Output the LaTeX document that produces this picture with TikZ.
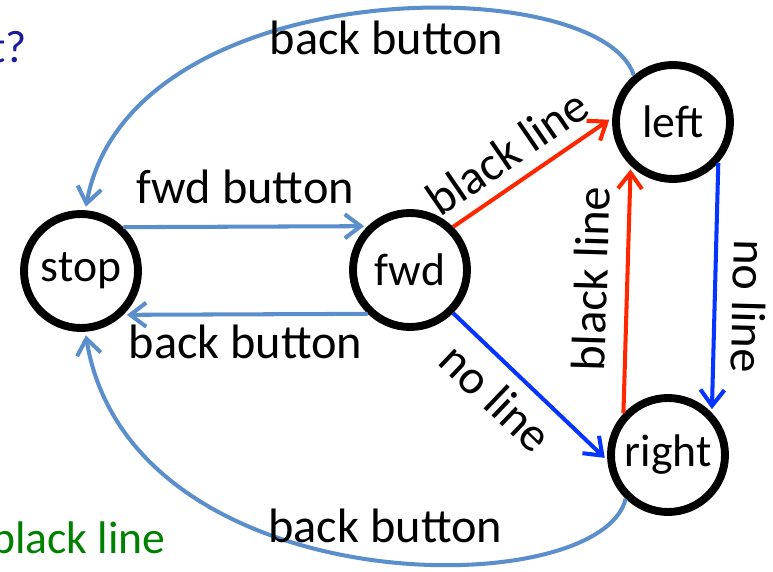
\documentclass[tikz,border=0pt]{standalone}
\usepackage{fontspec}
\setmainfont{Carlito}
\usetikzlibrary{arrows.meta}
\definecolor{btnblue}{RGB}{91,143,204}
\definecolor{linered}{RGB}{255,38,0}
\definecolor{noblue}{RGB}{5,51,255}
\definecolor{hintgreen}{RGB}{0,128,0}
\definecolor{askblue}{RGB}{28,28,150}

\begin{document}
\begin{tikzpicture}[font=\fontsize{26}{31}\selectfont,
  state/.style={circle,draw,line width=4.5pt,minimum size=2.28cm,inner sep=0pt},
  trans/.style={line width=2.3pt,shorten >=2pt,-{Straight Barb[length=3.2mm,width=4.8mm]}},
  lbl/.style={inner sep=2pt,text=black,font=\fontsize{27.5}{32}\selectfont}]
  \useasboundingbox (0,0) rectangle (15.46,11.42);
  \clip (0,0) rectangle (15.46,11.42);
  % states
  \node[state] (stop)  at (1.62,6.00) {stop};
  \node[state] (fwd)   at (8.20,6.02) {fwd};
  \node[state] (left)  at (13.46,8.98) {left};
  \node[state] (right) at (13.36,2.32) {right};
  % buttons
  \draw[trans,btnblue] (stop.46) -- node[lbl,above=10pt] {fwd button} (fwd.134);
  \draw[trans,btnblue] (fwd.-134) -- node[lbl,below=3pt] {back button} (stop.-46);
  \draw[trans,btnblue] (left.130) .. controls (12.0,12.02) and (2.6,12.02) ..
    node[lbl,pos=0.47,below=3pt] {back button} (stop.86);
  \draw[trans,btnblue] (right.-134) .. controls (12.0,-0.68) and (2.6,-0.68) ..
    node[lbl,pos=0.47,above=7pt] {back button} (stop.-86);
  % line sensor
  \draw[trans,linered] (fwd.45) -- node[lbl,pos=0.45,sloped,above=5pt] {black line} (left.176);
  \draw[trans,noblue] (fwd.-45) -- node[lbl,pos=0.42,sloped,below=5pt] {no line} (right.185);
  \draw[trans,linered] (right.137) -- node[lbl,pos=0.54,sloped,above=8pt] {black line} (left.226);
  \draw[trans,noblue] (left.-42) -- node[lbl,pos=0.57,sloped,above=7pt,allow upside down] {no line} (right.44);
  % cut-off slide text
  \node[askblue,inner sep=0pt,anchor=base east] (ask) at (0.55,10.18) {t?};
  \node[hintgreen,inner sep=0pt,anchor=base east] (hint) at (3.32,0.36) {black line};
\end{tikzpicture}
\end{document}
